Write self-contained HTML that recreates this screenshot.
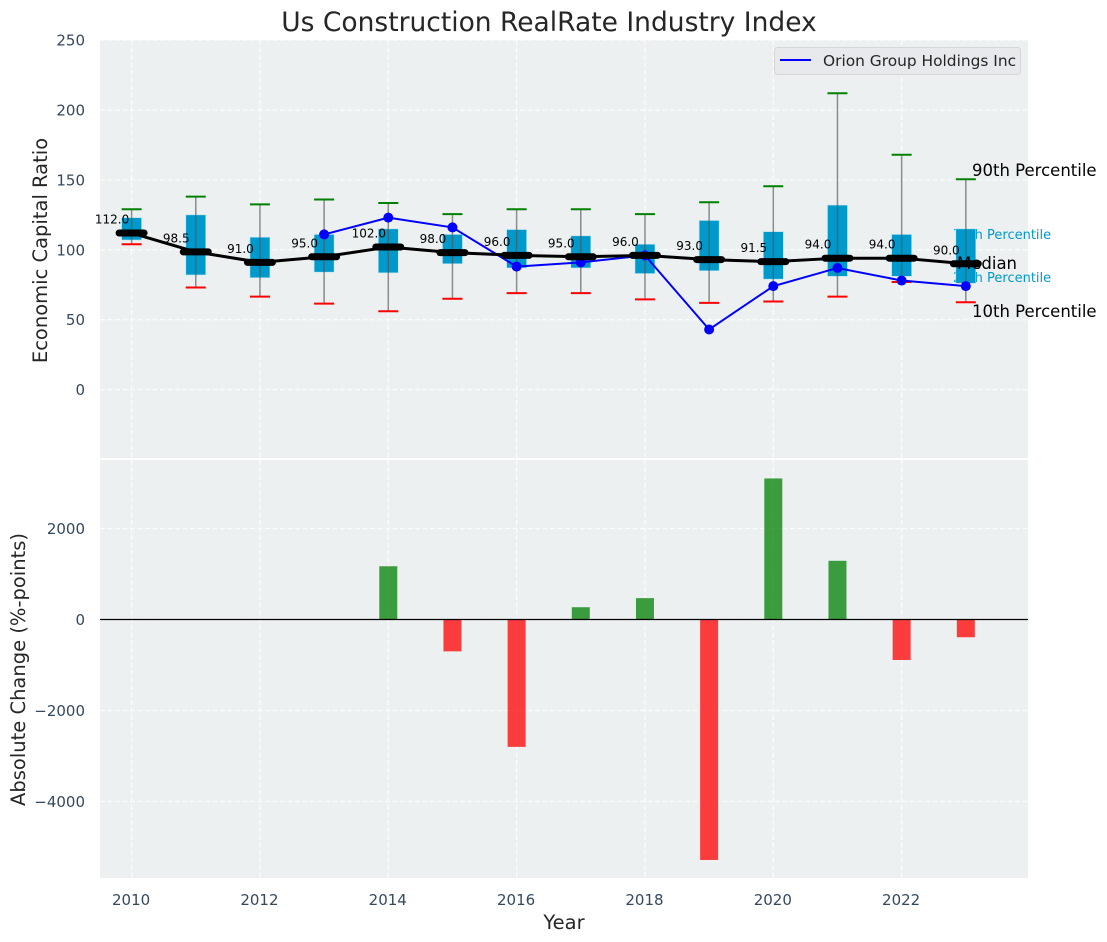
<!DOCTYPE html>
<html lang="en">
<head>
<meta charset="utf-8">
<title>Us Construction RealRate Industry Index</title>
<style>
html,body{margin:0;padding:0;background:#fff;}
svg{display:block;font-family:"DejaVu Sans","Liberation Sans",sans-serif;}
</style>
</head>
<body>
<svg id="chart" xmlns="http://www.w3.org/2000/svg" width="1107" height="942" viewBox="0 0 1107 942">
  <rect x="100" y="40" width="928" height="418" fill="#ecf0f1"/>
  <rect x="100" y="460" width="928" height="418" fill="#ecf0f1"/>
  <g id="grid"></g>
  <g id="percentile-notes">
    <text x="953" y="239" font-size="13" fill="#0099cc">75th Percentile</text>
    <text x="953" y="282" font-size="13" fill="#0099cc">25th Percentile</text>
  </g>
  <g id="boxes"></g>
  <g id="orion"></g>
  <g id="medians"></g>
  <g id="changes"></g>
  <line x1="100" x2="1028" y1="619.5" y2="619.5" stroke="#000" stroke-width="1.2"/>
  <g id="ticks" fill="#34495e" font-size="15"></g>
  <text x="549" y="31" font-size="26.5" fill="#262626" text-anchor="middle">Us Construction RealRate Industry Index</text>
  <text transform="translate(47,250.5) rotate(-90)" font-size="19.5" fill="#262626" text-anchor="middle">Economic Capital Ratio</text>
  <text transform="translate(25,669.5) rotate(-90)" font-size="19.5" fill="#262626" text-anchor="middle">Absolute Change (%-points)</text>
  <text x="564" y="929" font-size="19.5" fill="#262626" text-anchor="middle">Year</text>
  <text x="972" y="176" font-size="16.5" fill="#000">90th Percentile</text>
  <text x="957" y="269" font-size="16.5" fill="#000">Median</text>
  <text x="972" y="317" font-size="16.5" fill="#000">10th Percentile</text>
  <g>
    <rect x="774.5" y="47.5" width="246" height="27" rx="3" fill="#e8e9ed" stroke="#d4d6d9" stroke-width="1"/>
    <line x1="780" x2="811" y1="60" y2="60" stroke="#0000ff" stroke-width="2"/>
    <text x="823" y="66" font-size="15.4" fill="#262626">Orion Group Holdings Inc</text>
  </g>
</svg>
<script>
const years = [2010,2011,2012,2013,2014,2015,2016,2017,2018,2019,2020,2021,2022,2023];
const p90 = [129,138,132.5,136,133.5,125.5,129,129,125.5,134,145.5,212,168,150.5];
const p75 = [123,125,109,111,115,111,114.5,110,104,121,113,132,111,115];
const p25 = [107,82,80,84,83.5,90,87,87,83,85,79,81,81,76];
const p10 = [104,73,66.5,61.5,56,65,69,69,64.5,62,63,66.5,77,62.5];
const medianValues = [112,98.5,91,95,102,98,96,95,96,93,91.5,94,94,90];
const orionValues = [null,null,null,111,123,116,88,91,96,43,74,87,78,74];
const changeValues = [null,null,null,null,1170,-700,-2800,270,470,-5285,3100,1290,-890,-390];
const xTickLabels = [2010,2012,2014,2016,2018,2020,2022];
const topTickLabels = [0,50,100,150,200,250];
const bottomTickLabels = [-4000,-2000,0,2000];

const NS = 'http://www.w3.org/2000/svg';
function xScale(v){ return 131.6 + (v - 2010) * 64.17; }
function yTop(v){ return 389.6 - v * 1.398; }
function yBottom(v){ return 619.5 - v * 0.0455; }
function make(parent, tag, props, text){
  const el = document.createElementNS(NS, tag);
  for (const k in props) el.setAttribute(k, props[k]);
  if (text !== undefined) el.textContent = text;
  parent.appendChild(el);
  return el;
}
const gridG = document.getElementById('grid');
const boxesG = document.getElementById('boxes');
const orionG = document.getElementById('orion');
const mediansG = document.getElementById('medians');
const changesG = document.getElementById('changes');
const ticksG = document.getElementById('ticks');
const gridStyle = {stroke:'#fff','stroke-width':1.3,'stroke-dasharray':'5 2.5','stroke-opacity':0.8};

xTickLabels.forEach(function(t){
  const a = make(gridG,'line',Object.assign({x1:xScale(t),x2:xScale(t),y1:40,y2:458},gridStyle));
  
  
  const b = make(gridG,'line',Object.assign({x1:xScale(t),x2:xScale(t),y1:460,y2:878},gridStyle));
  
  
  const l = make(ticksG,'text',{x:xScale(t)-0.5,y:905,'text-anchor':'middle'},String(t));
  
  
});
topTickLabels.forEach(function(t){
  const g = make(gridG,'line',Object.assign({x1:100,x2:1028,y1:yTop(t),y2:yTop(t)},gridStyle));
  
  
  const l = make(ticksG,'text',{x:85,y:yTop(t)+5.5,'text-anchor':'end'},String(t));
  
  
});
bottomTickLabels.forEach(function(t){
  const g = make(gridG,'line',Object.assign({x1:100,x2:1028,y1:yBottom(t),y2:yBottom(t)},gridStyle));
  
  
  const l = make(ticksG,'text',{x:85,y:yBottom(t)+5.5,'text-anchor':'end'},String(t).replace('-','\u2212'));
  
  
});

years.forEach(function(yr,i){
  const x = xScale(yr);
  const box = make(boxesG,'rect',{x:x-10,y:yTop(p75[i]),width:20,height:yTop(p25[i])-yTop(p75[i]),fill:'#0099cc',stroke:'#bfe6f2','stroke-width':0.6});
  
  
  const w = make(boxesG,'line',{x1:x,x2:x,y1:yTop(p90[i]),y2:yTop(p10[i]),stroke:'#555','stroke-opacity':0.65,'stroke-width':1.5});
  
  
  const hi = make(boxesG,'line',{x1:x-10,x2:x+10,y1:yTop(p90[i]),y2:yTop(p90[i]),stroke:'#008000','stroke-width':2});
  
  
  const lo = make(boxesG,'line',{x1:x-10,x2:x+10,y1:yTop(p10[i]),y2:yTop(p10[i]),stroke:'#ff0000','stroke-width':2});
  
  
});

const orionPts = years.map(function(yr,i){ return orionValues[i]===null ? null : xScale(yr)+','+yTop(orionValues[i]); }).filter(Boolean).join(' ');
const orionLine = make(orionG,'polyline',{points:orionPts,fill:'none',stroke:'#0000ff','stroke-width':2});


years.forEach(function(yr,i){
  if (orionValues[i]===null) return;
  const c = make(orionG,'circle',{cx:xScale(yr),cy:yTop(orionValues[i]),r:5,fill:'#0000ff'});
  
  
});

const medianPts = years.map(function(yr,i){ return xScale(yr)+','+yTop(medianValues[i]); }).join(' ');
const medianLine = make(mediansG,'polyline',{points:medianPts,fill:'none',stroke:'#000','stroke-width':3});


years.forEach(function(yr,i){
  const x = xScale(yr), y = yTop(medianValues[i]);
  const m = make(mediansG,'line',{x1:x-12.5,x2:x+12.5,y1:y,y2:y,stroke:'#000','stroke-width':7,'stroke-linecap':'round'});
  
  
  const t = make(mediansG,'text',{x:x-19.5,y:y-9.5,'font-size':12,fill:'#000','text-anchor':'middle'},medianValues[i].toFixed(1));
  
  
});

years.forEach(function(yr,i){
  const v = changeValues[i];
  if (v===null) return;
  const top = Math.min(yBottom(v),yBottom(0));
  const r = make(changesG,'rect',{x:xScale(yr)-9,y:top,width:18,height:Math.abs(yBottom(v)-yBottom(0)),fill:v>=0?'#008000':'#ff0000','fill-opacity':0.75});
  
  
});
</script>
</body>
</html>
